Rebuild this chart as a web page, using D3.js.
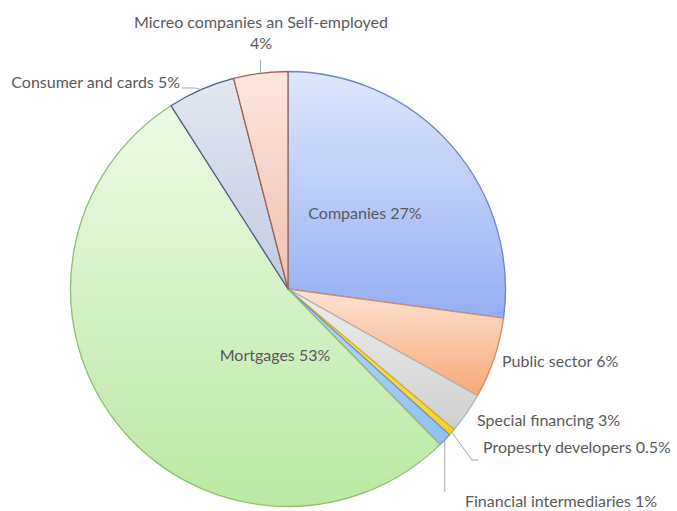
<!DOCTYPE html>
<html>
<head>
<meta charset="utf-8">
<script src="https://cdn.jsdelivr.net/npm/d3@7"></script>
<style>
  html, body { margin: 0; padding: 0; background: #fff; }
  svg text { font-family: Lato, "Open Sans", sans-serif; fill: #595959; }
</style>
</head>
<body>
<svg id="chart" width="677" height="511"></svg>
<script>
// Loan portfolio breakdown, clockwise from twelve o'clock
const categories = [
  "Companies",
  "Public sector",
  "Special financing",
  "Propesrty developers",
  "Financial intermediaries",
  "Mortgages",
  "Consumer and cards",
  "Micreo companies an Self-employed"
];
const shares = [27, 6, 3, 0.5, 1, 53, 5, 4];
const shareLabels = ["27%", "6%", "3%", "0.5%", "1%", "53%", "5%", "4%"];

// fill gradient (light top -> base bottom) and outline for each slice
const topColors    = ["#dfe7fc", "#fde3d3", "#eeeeee", "#ffe97a", "#b9d9f9", "#edf9e6", "#e3e7f1", "#fce6df"];
const bottomColors = ["#95aef4", "#f7a878", "#cfcfcf", "#f7cf2a", "#8fc0f1", "#bbe9a2", "#c2cadf", "#f2c0b0"];
const strokeColors = ["#6c84c2", "#d48c64", "#b2b2b2", "#d6b020", "#6b98c8", "#8fbd74", "#4f6080", "#9c6656"];

const svg = d3.select("#chart");
const cx = 288, cy = 289, R = 217.5;

const defs = svg.append("defs");
categories.forEach((c, i) => {
  const g = defs.append("linearGradient")
    .attr("id", "grad" + i)
    .attr("x1", 0).attr("y1", 0).attr("x2", 0).attr("y2", 1);
  g.append("stop").attr("offset", "0%").attr("stop-color", topColors[i]);
  g.append("stop").attr("offset", "100%").attr("stop-color", bottomColors[i]);
});

const data = categories.map((c, i) => ({ name: c, value: shares[i], label: shareLabels[i], i }));

const pie = d3.pie().sort(null).value(d => d.value);
const arcs = pie(data);
const arc = d3.arc().innerRadius(0).outerRadius(R);

const root = svg.append("g").attr("transform", `translate(${cx},${cy})`);

root.selectAll("path.slice")
  .data(arcs)
  .join("path")
  .attr("class", "slice")
  .attr("d", arc)
  .attr("fill", d => `url(#grad${d.data.i})`)
  .attr("stroke", d => strokeColors[d.data.i])
  .attr("stroke-width", 1.3)
  .attr("stroke-linejoin", "round");

// point on the rim at a slice's middle angle
function rimPoint(d, r) {
  const a = (d.startAngle + d.endAngle) / 2;
  return [Math.sin(a) * r, -Math.cos(a) * r];
}

// label placement relative to the pie centre
const labelLayout = [
  { x: 77, y: -76, anchor: "middle" },
  { x: 214, y: 72, anchor: "start" },
  { x: 189, y: 131, anchor: "start" },
  { x: 195, y: 158, anchor: "start" },
  { x: 177, y: 212, anchor: "start" },
  { x: -13, y: 66, anchor: "middle" },
  { x: -108, y: -207, anchor: "end" },
  { x: -27, y: -267, anchor: "middle" }
];

// leader lines for the outside labels
const leader = d3.line();
const leaderGroup = root.append("g")
  .attr("fill", "none")
  .attr("stroke", "#a6a6a6")
  .attr("stroke-width", 1);

arcs.forEach(d => {
  const i = d.data.i;
  const p = rimPoint(d, R);
  let pts = null;
  if (i === 7) {
    pts = [p, [p[0], -229]];
  } else if (i === 6) {
    pts = [p, [p[0] - 6, -201], [-106, -201]];
  } else if (i === 3) {
    pts = [p, [184, 171], [190, 171]];
  } else if (i === 4) {
    pts = [p, [p[0], 203]];
  }
  if (pts) leaderGroup.append("path").attr("d", leader(pts));
});

const fontSize = 16;
const labels = root.selectAll("text.lbl")
  .data(arcs)
  .join("text")
  .attr("class", "lbl")
  .attr("font-size", fontSize)
  .attr("text-anchor", d => labelLayout[d.data.i].anchor)
  .attr("x", d => labelLayout[d.data.i].x)
  .attr("y", d => labelLayout[d.data.i].y)
  .attr("dy", "0.35em");

labels.each(function(d) {
  const t = d3.select(this);
  if (d.data.i === 7) {
    // long name wraps onto two lines
    t.append("tspan").attr("x", labelLayout[7].x).text(d.data.name);
    t.append("tspan").attr("x", labelLayout[7].x).attr("dy", "1.35em").text(d.data.label);
  } else {
    t.text(d.data.name + " " + d.data.label);
  }
});
</script>
</body>
</html>
